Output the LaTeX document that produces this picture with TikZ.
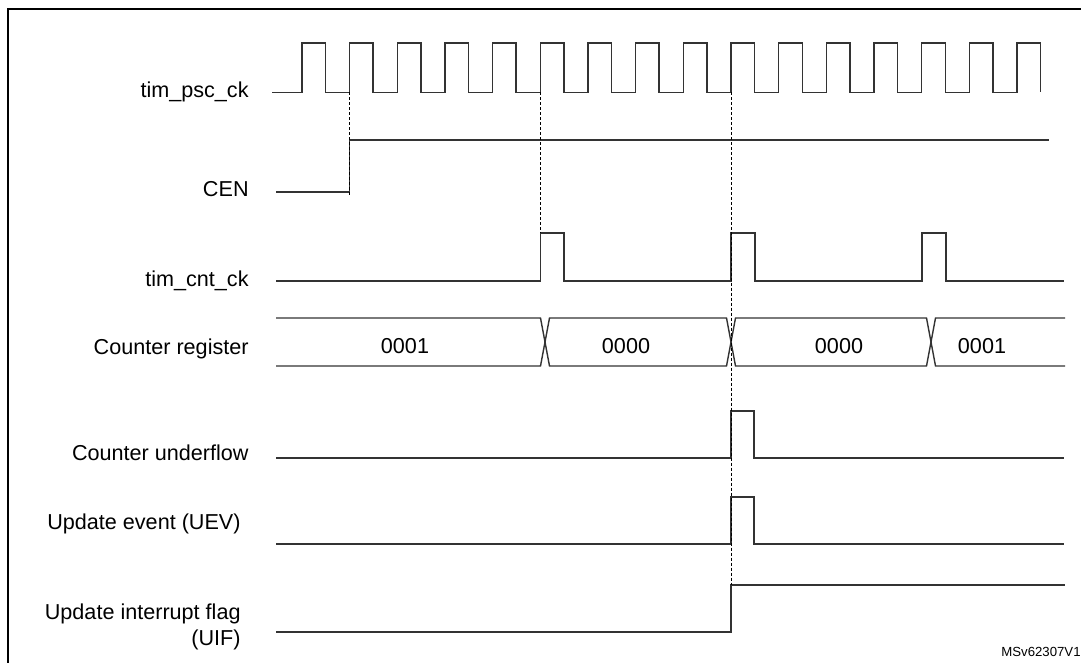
\documentclass[tikz,border=0pt]{standalone}
\usepackage{fontspec}
\setmainfont{Liberation Sans}
\begin{document}
\begin{tikzpicture}[x=0.5pt,y=-0.5pt,
	sig/.style={line width=0.7pt,black!80},
	guide/.style={line width=0.45pt,dash pattern=on 1.5pt off 1pt},
	lbl/.style={anchor=base east,inner sep=0pt,font=\fontsize{10.8}{13}\selectfont},
	val/.style={anchor=base,inner sep=0pt,font=\fontsize{10.8}{13}\selectfont}]
			\useasboundingbox (0,0) rectangle (1081,663);
			\draw[line width=1pt] (1081,9.5) -- (8,9.5) -- (8,663);
			% tim_psc_ck
			\draw[sig] (272,92.5) foreach \k in {0,...,15} {-- ({302+47.67*\k},92.5) -- ++(0,-49.5) -- ++(23.5,0) -- ++(0,49.5)};
			% CEN, tim_cnt_ck
			\draw[sig] (276,192) -- (349.7,192) -- (349.7,140) -- (1049,140);
			\draw[sig] (276,281) -- (540.3,281) -- (540.3,233) -- (564,233) -- (564,281) -- (731,281) -- (731,233) -- (755,233) -- (755,281) -- (922,281) -- (922,233) -- (946,233) -- (946,281) -- (1064,281);
			% counter register
			\draw[sig] (276,318) -- (540.5,318) -- (549.5,366) -- (726.5,366) -- (735.5,318) -- (926.5,318) -- (935.5,366) -- (1065,366);
			\draw[sig] (276,366) -- (540.5,366) -- (549.5,318) -- (726.5,318) -- (735.5,366) -- (926.5,366) -- (935.5,318) -- (1065,318);
			% underflow, UEV, UIF
			\draw[sig] (276,458) -- (731,458) -- (731,411) -- (754,411) -- (754,458) -- (1064,458);
			\draw[sig] (276,544) -- (731,544) -- (731,497) -- (754,497) -- (754,544) -- (1064,544);
			\draw[sig] (276,632) -- (731,632) -- (731,585) -- (1065,585);
			\draw[guide] (349.7,92.5) -- (349.7,197) (540.3,92.5) -- (540.3,233) (731,92.5) -- (731,585);
			\node[lbl] (psc) at (249,98) {tim\_psc\_ck};
			\node[lbl] (cen) at (249,197) {CEN};
			\node[lbl] (cnt) at (249,286) {tim\_cnt\_ck};
			\node[lbl] (reg) at (249,354) {Counter register};
			\node[lbl] (udf) at (249,460) {Counter underflow};
			\node[lbl] (uev) at (241,529) {Update event (UEV)};
			\node[lbl,anchor=east,align=right] (uif) at (241,627) {Update interrupt flag\\(UIF)};
			\node[val] (v1) at (405,353) {0001};
			\node[val] (v2) at (626,353) {0000};
			\node[val] (v3) at (839,353) {0000};
			\node[val] (v4) at (982,353) {0001};
			\node[anchor=base east,inner sep=0pt,font=\fontsize{6.6}{8}\selectfont] (msv) at (1081,656) {MSv62307V1};
		\end{tikzpicture}
\end{document}
